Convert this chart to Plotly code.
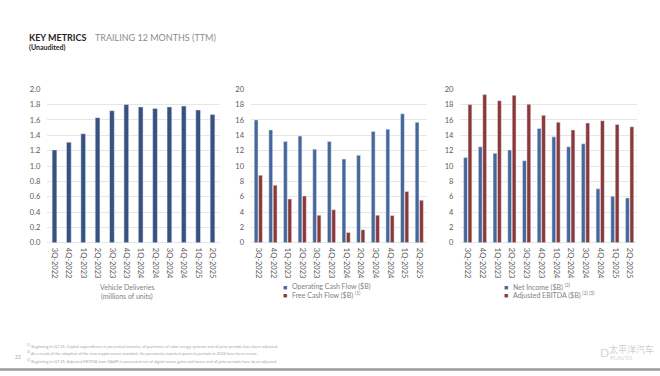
import plotly.graph_objects as go

quarters = ["3Q-2022", "4Q-2022", "1Q-2023", "2Q-2023", "3Q-2023", "4Q-2023",
            "1Q-2024", "2Q-2024", "3Q-2024", "4Q-2024", "1Q-2025", "2Q-2025"]
deliveries = [1.21, 1.31, 1.42, 1.63, 1.72, 1.80, 1.77, 1.75, 1.77, 1.78, 1.73, 1.67]
operating_cf = [16.0, 14.7, 13.2, 13.9, 12.2, 13.2, 10.9, 11.4, 14.5, 14.8, 16.8, 15.7]
free_cf = [8.8, 7.5, 5.7, 6.1, 3.6, 4.3, 1.36, 1.7, 3.6, 3.56, 6.7, 5.55]
net_income = [11.1, 12.5, 11.65, 12.1, 10.7, 14.9, 13.8, 12.5, 12.9, 7.03, 6.06, 5.85]
adj_ebitda = [18.0, 19.3, 18.5, 19.2, 18.05, 16.6, 15.7, 14.7, 15.6, 15.9, 15.4, 15.1]

W, H = 660, 376
BLUE = "#46679a"
NAVY = "#37527f"
RED = "#8c3838"
FONT = "Lato"
GRAY = "#595959"

def px(x):
    return x / W

def py(y):
    return 1 - y / H

fig = go.Figure()

fig.add_trace(go.Bar(x=quarters, y=deliveries, marker_color=NAVY, width=0.33,
                     xaxis="x", yaxis="y", showlegend=False))
fig.add_trace(go.Bar(x=quarters, y=operating_cf, marker_color=BLUE, width=0.26, offset=-0.28,
                     xaxis="x2", yaxis="y2", showlegend=False))
fig.add_trace(go.Bar(x=quarters, y=free_cf, marker_color=RED, width=0.26, offset=0.02,
                     xaxis="x2", yaxis="y2", showlegend=False))
fig.add_trace(go.Bar(x=quarters, y=net_income, marker_color=BLUE, width=0.26, offset=-0.28,
                     xaxis="x3", yaxis="y3", showlegend=False))
fig.add_trace(go.Bar(x=quarters, y=adj_ebitda, marker_color=RED, width=0.26, offset=0.02,
                     xaxis="x3", yaxis="y3", showlegend=False))

ydom = [py(244.7), py(87.3)]
xcommon = dict(type="category", tickangle=90, tickfont=dict(family=FONT, size=7.5, color=GRAY),
               showgrid=False, showline=False, ticks="", ticklabelstandoff=4,
               range=[-0.5, 11.5])
ycommon = dict(domain=ydom, showgrid=True, gridcolor="#e6e6e6", gridwidth=0.8,
               zeroline=True, zerolinecolor="#e6e6e6", zerolinewidth=0.8,
               tickfont=dict(family=FONT, size=7.5, color=GRAY), showline=False, ticks="",
               ticklabelstandoff=6)

fig.update_layout(
    width=W, height=H, margin=dict(l=0, r=0, t=0, b=0),
    paper_bgcolor="white", plot_bgcolor="white",
    barmode="overlay",
    xaxis=dict(domain=[px(47.3), px(219.7)], anchor="y", **xcommon),
    xaxis2=dict(domain=[px(251), px(426.6)], anchor="y2", **xcommon),
    xaxis3=dict(domain=[px(460.4), px(637)], anchor="y3", **xcommon),
    yaxis=dict(anchor="x", range=[0, 2.0], dtick=0.2, tickformat=".1f", **ycommon),
    yaxis2=dict(anchor="x2", range=[0, 20], dtick=2, **ycommon),
    yaxis3=dict(anchor="x3", range=[0, 20], dtick=2, **ycommon),
)

ann = []
def text(x, y, t, size=7, color=GRAY, xanchor="left", bold=False, family=FONT):
    if bold:
        t = "<b>" + t + "</b>"
    ann.append(dict(x=px(x), y=py(y), xref="paper", yref="paper", text=t, showarrow=False,
                    xanchor=xanchor, yanchor="middle",
                    font=dict(family=family, size=size, color=color)))

# title
text(27, 34, "KEY METRICS", size=9, color="#262626", bold=True)
text(93, 34, "TRAILING 12 MONTHS (TTM)", size=9, color="#8c8c8c")
text(27, 44.5, "(Unaudited)", size=7, color="#262626", bold=True)

# chart 1 axis title
text(127, 290, "Vehicle Deliveries", size=7, color="#7f7f7f", xanchor="center")
text(127, 300, "(millions of units)", size=7, color="#7f7f7f", xanchor="center")

# legends
text(280.5, 289.5, "■", size=7, color=BLUE)
text(289.5, 289.5, "Operating Cash Flow ($B)", size=7, color="#7f7f7f")
text(280.5, 298.5, "■", size=7, color=RED)
text(289.5, 298.5, "Free Cash Flow ($B) <sup>(1)</sup>", size=7, color="#7f7f7f")
text(502, 289.5, "■", size=7, color=BLUE)
text(511, 289.5, "Net Income ($B) <sup>(2)</sup>", size=7, color="#7f7f7f")
text(502, 298.5, "■", size=7, color=RED)
text(511, 298.5, "Adjusted EBITDA ($B) <sup>(2) (3)</sup>", size=7, color="#7f7f7f")

# footnotes
fn_color = "#a6a6a6"
text(25, 350, "<sup>(1)</sup> Beginning in Q1'25, Capital expenditures is presented inclusive of purchases of solar energy systems and all prior periods have been adjusted.", size=4, color=fn_color)
text(25, 357.5, "<sup>(2)</sup> As a result of the adoption of the new crypto assets standard, the previously reported quarterly periods in 2024 have been recast.", size=4, color=fn_color)
text(25, 365, "<sup>(3)</sup> Beginning in Q1'25, Adjusted EBITDA (non-GAAP) is presented net of digital assets gains and losses and all prior periods have been adjusted.", size=4, color=fn_color)
text(13, 362, "22", size=5, color=fn_color)

# watermark
text(598, 357, "D", size=12, color="#d6d6d6")
text(607, 353.5, "太平洋汽车", size=9, color="#cfcfcf", family="Noto Sans CJK SC")
text(608, 362.5, "PCAUTO", size=5.5, color="#d2d2d2")

fig.update_layout(annotations=ann)

fig.add_shape(type="line", xref="paper", yref="paper", x0=0, x1=1, y0=py(374.5), y1=py(374.5),
              line=dict(color="#9a9a9a", width=2.5))

fig.write_html("out.html", config={"displayModeBar": False},
               post_script="document.body.style.margin='0';document.body.style.overflow='hidden';")
